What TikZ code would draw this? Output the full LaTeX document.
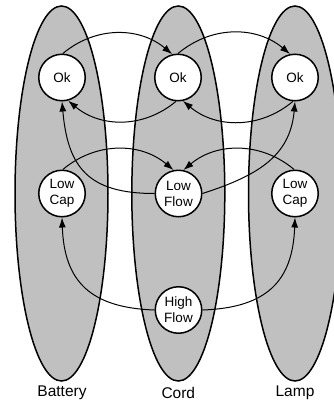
\documentclass[tikz,border=0pt]{standalone}
\usepackage{fontspec}
\setmainfont{Liberation Sans}
\usetikzlibrary{arrows.meta,shapes.geometric}
\definecolor{lanegray}{HTML}{C0C0C0}
\pgfdeclarelayer{lanes}
\pgfdeclarelayer{edges}
\pgfsetlayers{lanes,edges,main}
\tikzset{
  lane/.style={ellipse, draw=black, line width=1.5pt, fill=lanegray, minimum width=93pt, minimum height=375pt, inner sep=0pt},
  state/.style={circle, draw=black, line width=1.5pt, fill=white, minimum size=46.5pt, inner sep=0pt, align=center, font=\fontsize{13.5}{16}\selectfont},
  lanelabel/.style={font=\fontsize{15.5}{18}\selectfont},
  flow/.style={line width=1pt, -{Latex[length=10pt,width=7pt]}}
}
\begin{document}
\begin{tikzpicture}[x=1pt,y=-1pt]
\useasboundingbox (0,0) rectangle (333,405);
% states
\node[state] (bok) at (62,77.5) {Ok};
\node[state] (cok) at (178,77.5) {Ok};
\node[state] (lok) at (295,77.5) {Ok};
\node[state] (blow) at (62,193.5) {Low\\Cap};
\node[state] (clow) at (178.5,193.5) {Low\\Flow};
\node[state] (llow) at (295,193.5) {Low\\Cap};
\node[state] (chigh) at (178.5,310) {High\\Flow};
% lanes
\begin{pgfonlayer}{lanes}
\node[lane] (battery) at (61.5,193.5) {};
\node[lane] (cord) at (178.3,193.5) {};
\node[lane] (lamp) at (295,193.5) {};
\end{pgfonlayer}
% connectors
\begin{pgfonlayer}{edges}
\draw[flow] (bok.88) to[out=40,in=140] (cok.104);
\draw[flow] (cok.90) to[out=40,in=140] (lok.102);
\draw[flow] (cok.-95) to[out=-140,in=-40] (bok.-75);
\draw[flow] (lok.-95) to[out=-140,in=-40] (cok.-78);
\draw[flow] (blow.88) to[out=40,in=140] (clow.102);
\draw[flow] (llow.92) to[out=140,in=40] (clow.78);
\draw[flow] (clow.180) to[out=180,in=-85,looseness=1.3] (bok.-90);
\draw[flow] (clow.0) to[out=18,in=-95,looseness=1.1] (lok.-90);
\draw[flow] (chigh.180) to[out=178,in=-88,looseness=1.25] (blow.-90);
\draw[flow] (chigh.0) to[out=2,in=-92,looseness=1.25] (llow.-90);
\end{pgfonlayer}
% labels
\node[lanelabel] (lbat) at (62,393) {Battery};
\node[lanelabel] (lcord) at (178.3,393) {Cord};
\node[lanelabel] (llamp) at (295,393) {Lamp};
\end{tikzpicture}
\end{document}
